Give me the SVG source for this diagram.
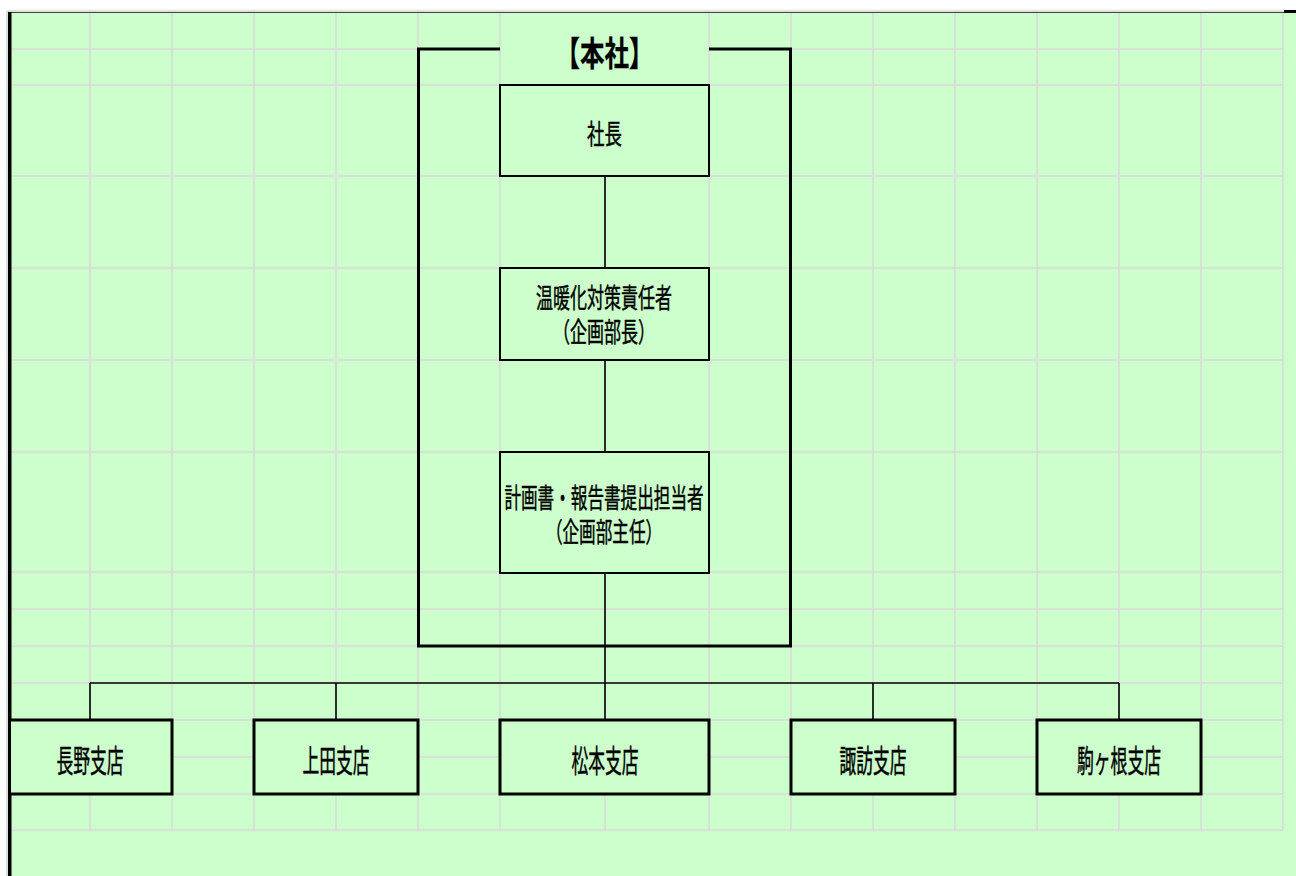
<svg xmlns="http://www.w3.org/2000/svg" width="1296" height="876" viewBox="0 0 1296 876">
<style>
.grid line{stroke:#d9d9d9;stroke-width:1.5}
.box{fill:#ccffcc;stroke:#000;stroke-width:2}
.tbox{fill:#ccffcc;stroke:#000;stroke-width:3}
.conn{stroke:#000;stroke-width:1.6;fill:none}
.frame{stroke:#000;stroke-width:3;fill:none}
text{font-family:"Noto Sans CJK JP","Noto Sans CJK SC",sans-serif;fill:#000;text-anchor:middle;stroke:#000;stroke-width:0.45}
.t27{font-size:27px}
.t31{font-size:31px}
.title{font-size:34px;font-weight:bold;stroke-width:0.3}
</style>
<rect x="0" y="0" width="1296" height="876" fill="#ffffff"/>
<rect x="7" y="11" width="1289" height="865" fill="#ccffcc"/>
<g class="grid" id="grid">
<line x1="90" y1="12" x2="90" y2="830"/>
<line x1="172" y1="12" x2="172" y2="830"/>
<line x1="254" y1="12" x2="254" y2="830"/>
<line x1="336" y1="12" x2="336" y2="830"/>
<line x1="418" y1="12" x2="418" y2="830"/>
<line x1="500" y1="12" x2="500" y2="830"/>
<line x1="605" y1="85" x2="605" y2="830"/>
<line x1="709" y1="12" x2="709" y2="830"/>
<line x1="791" y1="12" x2="791" y2="830"/>
<line x1="873" y1="12" x2="873" y2="830"/>
<line x1="955" y1="12" x2="955" y2="830"/>
<line x1="1037" y1="12" x2="1037" y2="830"/>
<line x1="1119" y1="12" x2="1119" y2="830"/>
<line x1="1201" y1="12" x2="1201" y2="830"/>
<line x1="1283" y1="12" x2="1283" y2="830"/>
<line x1="7" y1="49" x2="500" y2="49"/>
<line x1="709" y1="49" x2="1283" y2="49"/>
<line x1="7" y1="85" x2="1283" y2="85"/>
<line x1="7" y1="176" x2="1283" y2="176"/>
<line x1="7" y1="268" x2="1283" y2="268"/>
<line x1="7" y1="360" x2="1283" y2="360"/>
<line x1="7" y1="452" x2="1283" y2="452"/>
<line x1="7" y1="572" x2="1283" y2="572"/>
<line x1="7" y1="609" x2="1283" y2="609"/>
<line x1="7" y1="646" x2="1283" y2="646"/>
<line x1="7" y1="683" x2="1283" y2="683"/>
<line x1="7" y1="720" x2="1283" y2="720"/>
<line x1="7" y1="757" x2="1283" y2="757"/>
<line x1="7" y1="794" x2="1283" y2="794"/>
<line x1="7" y1="830" x2="1283" y2="830"/>
<line x1="7" y1="11" x2="1283" y2="11"/>
<line x1="7" y1="11" x2="7" y2="876"/>
</g>
<line x1="8" y1="12.5" x2="1284" y2="12.5" stroke="#444" stroke-width="1"/>
<rect x="1284" y="10" width="12" height="3" fill="#000"/>
<rect x="8" y="12" width="3.5" height="864" fill="#000"/>
<g id="connectors">
<path class="frame" d="M500,49 H418.5 V646 H790.5 V49 H709"/>
<line class="conn" x1="605" y1="176" x2="605" y2="268"/>
<line class="conn" x1="605" y1="360" x2="605" y2="452"/>
<line class="conn" x1="605" y1="573" x2="605" y2="683"/>
<line class="conn" x1="90" y1="683" x2="1119" y2="683"/>
<line class="conn" x1="90" y1="683" x2="90" y2="720"/>
<line class="conn" x1="336" y1="683" x2="336" y2="720"/>
<line class="conn" x1="605" y1="683" x2="605" y2="720"/>
<line class="conn" x1="873" y1="683" x2="873" y2="720"/>
<line class="conn" x1="1119" y1="683" x2="1119" y2="720"/>
</g>
<g id="honsha-title">
<text class="title" transform="translate(604.5,66) scale(0.72,1)" x="0" y="0">【本社】</text>
</g>
<g id="shacho">
<rect class="box" x="500" y="85" width="209" height="91"/>
<text class="t27" transform="translate(604.5,143.5) scale(0.645,1)" x="0" y="0">社長</text>
</g>
<g id="sekininsha">
<rect class="box" x="500" y="268" width="209" height="92"/>
<text class="t27" transform="translate(604,307.5) scale(0.63,1)"><tspan x="0" y="0">温暖化対策責任者</tspan><tspan x="0" y="35">（企画部長）</tspan></text>
</g>
<g id="tantosha">
<rect class="box" x="500" y="452" width="209" height="121"/>
<text class="t27" transform="translate(604,507.5) scale(0.615,1)"><tspan x="0" y="0">計画書・報告書提出担当者</tspan><tspan x="0" y="35">（企画部主任）</tspan></text>
</g>
<g id="nagano">
<rect class="tbox" x="9.5" y="720" width="162.5" height="74"/>
<text class="t31" transform="translate(90,771.5) scale(0.542,1)" x="0" y="0">長野支店</text>
</g>
<g id="ueda">
<rect class="tbox" x="254" y="720" width="164" height="74"/>
<text class="t31" transform="translate(336,771.5) scale(0.542,1)" x="0" y="0">上田支店</text>
</g>
<g id="matsumoto">
<rect class="tbox" x="500" y="720" width="209" height="74"/>
<text class="t31" transform="translate(605,771.5) scale(0.542,1)" x="0" y="0">松本支店</text>
</g>
<g id="suwa">
<rect class="tbox" x="791" y="720" width="164" height="74"/>
<text class="t31" transform="translate(873,771.5) scale(0.542,1)" x="0" y="0">諏訪支店</text>
</g>
<g id="komagane">
<rect class="tbox" x="1037" y="720" width="164" height="74"/>
<text class="t31" transform="translate(1119,771.5) scale(0.542,1)" x="0" y="0">駒ヶ根支店</text>
</g>
</svg>
